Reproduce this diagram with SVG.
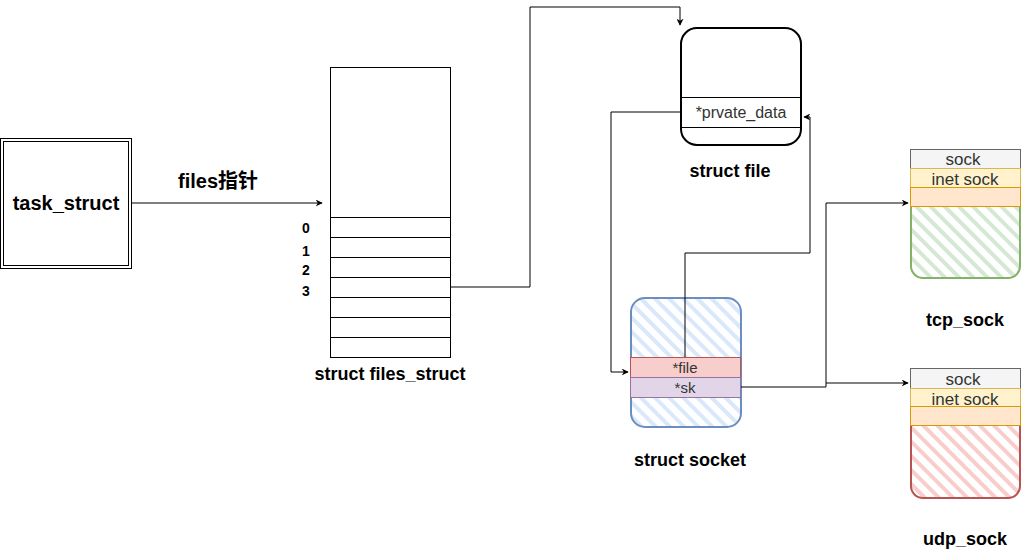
<svg xmlns="http://www.w3.org/2000/svg" width="1022" height="558" viewBox="0 0 1022 558">
<style>
  .lbl{font-family:"Liberation Sans",Arial,"Noto Sans CJK SC",sans-serif;font-weight:bold;fill:#000;text-anchor:middle}
  .cell{font-family:"Liberation Sans",Arial,sans-serif;fill:#333;text-anchor:middle}
  .edge{fill:none;stroke:#000;stroke-width:1}
  .row{fill:#fff;stroke:#000;stroke-width:1}
</style>
<defs>
  <marker id="arr" viewBox="0 0 10 10" refX="9" refY="5" markerWidth="7" markerHeight="7" orient="auto" markerUnits="userSpaceOnUse">
    <path d="M0,0 L10,5 L0,10 L3,5 Z" fill="#000"/>
  </marker>
  <pattern id="hBlue" width="10" height="10" patternUnits="userSpaceOnUse" patternTransform="rotate(-45)">
    <rect x="0" y="0" width="4" height="10" fill="#dae8fc"/>
  </pattern>
  <pattern id="hGreen" width="10" height="10" patternUnits="userSpaceOnUse" patternTransform="rotate(-45)">
    <rect x="0" y="0" width="4" height="10" fill="#d5e8d4"/>
  </pattern>
  <pattern id="hRed" width="10" height="10" patternUnits="userSpaceOnUse" patternTransform="rotate(-45)">
    <rect x="0" y="0" width="4" height="10" fill="#f8cecc"/>
  </pattern>
</defs>
<rect width="1022" height="558" fill="#fff"/>

<g id="task_struct">
  <rect x="0.5" y="138.5" width="131" height="130" fill="#fff" stroke="#000"/>
  <rect x="3.5" y="141.5" width="125" height="124" fill="none" stroke="#000"/>
  <text class="lbl" x="66" y="210" font-size="20">task_struct</text>
</g>

<g id="files_label">
  <text class="lbl" x="218" y="188" font-size="20">files指针</text>
</g>

<g id="files_struct">
  <rect class="row" x="330.5" y="67.5" width="120" height="150"/>
  <rect class="row" x="330.5" y="217.5" width="120" height="20"/>
  <rect class="row" x="330.5" y="237.5" width="120" height="20"/>
  <rect class="row" x="330.5" y="257.5" width="120" height="20"/>
  <rect class="row" x="330.5" y="277.5" width="120" height="20"/>
  <rect class="row" x="330.5" y="297.5" width="120" height="20"/>
  <rect class="row" x="330.5" y="317.5" width="120" height="20"/>
  <rect class="row" x="330.5" y="337.5" width="120" height="20"/>
  <text class="lbl" x="306" y="233" font-size="14">0</text>
  <text class="lbl" x="306" y="256" font-size="14">1</text>
  <text class="lbl" x="306" y="275" font-size="14">2</text>
  <text class="lbl" x="306" y="296" font-size="14">3</text>
  <text class="lbl" x="390" y="380" font-size="18">struct files_struct</text>
</g>

<g id="struct_file">
  <rect x="681" y="28" width="120" height="117" rx="16" ry="16" fill="#fff" stroke="#000" stroke-width="2"/>
  <rect x="681.5" y="97.5" width="119" height="30" fill="#fff" stroke="#000"/>
  <text class="cell" x="741" y="118" font-size="16">*prvate_data</text>
  <text class="lbl" x="730" y="177" font-size="18">struct file</text>
</g>

<g id="struct_socket">
  <rect x="631" y="298" width="110" height="129" rx="14" ry="14" fill="url(#hBlue)" stroke="#6c8ebf" stroke-width="2"/>
  <rect x="630.5" y="357.5" width="110" height="20" fill="#f8cecc" stroke="#b85450"/>
  <rect x="630.5" y="377.5" width="110" height="20" fill="#e1d5e7" stroke="#9673a6"/>
  <text class="cell" x="685" y="373" font-size="15">*file</text>
  <text class="cell" x="685" y="393" font-size="15">*sk</text>
  <text class="lbl" x="690" y="466" font-size="18">struct socket</text>
</g>

<g id="tcp_sock">
  <rect x="911" y="150" width="109" height="128" rx="12" ry="12" fill="url(#hGreen)" stroke="#82b366" stroke-width="2"/>
  <rect x="910.5" y="149.5" width="110" height="19" fill="#f5f5f5" stroke="#666"/>
  <rect x="910.5" y="168.5" width="110" height="19" fill="#fff2cc" stroke="#d6b656"/>
  <rect x="910.5" y="187.5" width="110" height="19" fill="#ffe6cc" stroke="#d79b00"/>
  <text class="cell" x="963" y="165" font-size="17">sock</text>
  <text class="cell" x="965" y="185" font-size="17">inet sock</text>
  <text class="lbl" x="965" y="326" font-size="18">tcp_sock</text>
</g>

<g id="udp_sock">
  <rect x="911" y="370" width="109" height="128" rx="12" ry="12" fill="url(#hRed)" stroke="#b85450" stroke-width="2"/>
  <rect x="910.5" y="368.5" width="110" height="20" fill="#f5f5f5" stroke="#666"/>
  <rect x="910.5" y="388.5" width="110" height="18" fill="#fff2cc" stroke="#d6b656"/>
  <rect x="910.5" y="406.5" width="110" height="19" fill="#ffe6cc" stroke="#d79b00"/>
  <text class="cell" x="963" y="385" font-size="17">sock</text>
  <text class="cell" x="965" y="405" font-size="17">inet sock</text>
  <text class="lbl" x="965" y="545" font-size="18">udp_sock</text>
</g>

<g id="connectors">
  <path class="edge" d="M132,203 H322" marker-end="url(#arr)"/>
  <path class="edge" d="M450,287 H530 V7 H680 V25" marker-end="url(#arr)"/>
  <path class="edge" d="M680,112 H611 V372 H628" marker-end="url(#arr)"/>
  <path class="edge" d="M685,357 V253 H810 V117 H804" marker-end="url(#arr)"/>
  <path class="edge" d="M741,387 H826 V203 H908" marker-end="url(#arr)"/>
  <path class="edge" d="M826,383 H908" marker-end="url(#arr)"/>
</g>
</svg>
